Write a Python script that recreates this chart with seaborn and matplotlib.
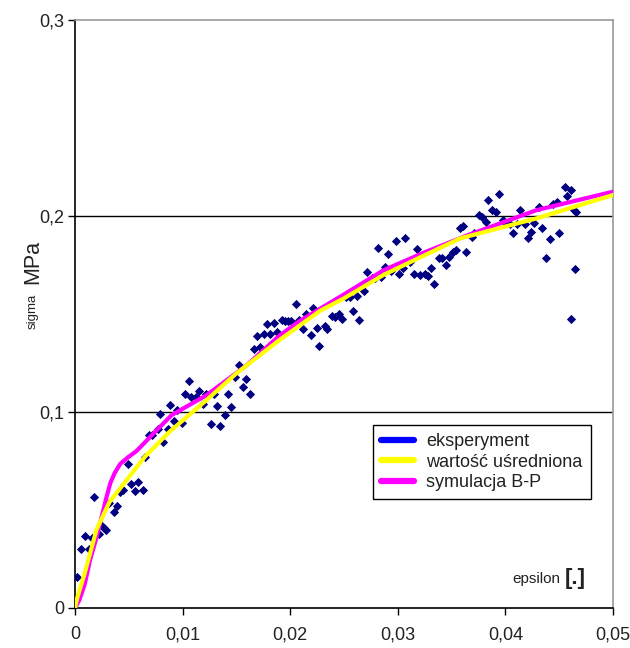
import matplotlib
matplotlib.use("Agg")
import matplotlib.pyplot as plt
import seaborn as sns
import pandas as pd
from matplotlib.lines import Line2D

# eksperyment (punkty pomiarowe)
eps_exp = [0.0002, 0.0006, 0.0009, 0.0013, 0.0016, 0.0018, 0.0022, 0.0025, 0.0027, 0.0029,
           0.0032, 0.0036, 0.0039, 0.0042, 0.0045, 0.0049, 0.0052, 0.0056, 0.0059, 0.0063,
           0.0065, 0.0069, 0.0072, 0.0077, 0.0079, 0.0082, 0.0086, 0.0088, 0.0092, 0.0095,
           0.0099, 0.0102, 0.0106, 0.0108, 0.0112, 0.0115, 0.0119, 0.0122, 0.0126, 0.0129,
           0.0132, 0.0135, 0.0139, 0.0142, 0.0145, 0.0149, 0.0152, 0.0156, 0.0159, 0.0163,
           0.0166, 0.0169, 0.0172, 0.0176, 0.0178, 0.0181, 0.0185, 0.0188, 0.0192, 0.0195,
           0.0198, 0.0201, 0.0205, 0.0208, 0.0212, 0.0215, 0.0219, 0.0221, 0.0225, 0.0227,
           0.0232, 0.0234, 0.0239, 0.0242, 0.0245, 0.0248, 0.0252, 0.0256, 0.0258, 0.0262,
           0.0264, 0.0269, 0.0271, 0.0276, 0.0279, 0.0282, 0.0284, 0.0288, 0.0291, 0.0294,
           0.0298, 0.0301, 0.0305, 0.0307, 0.0311, 0.0315, 0.0318, 0.0321, 0.0325, 0.0328,
           0.0331, 0.0334, 0.0338, 0.0341, 0.0345, 0.0348, 0.0351, 0.0354, 0.0358, 0.0361,
           0.0363, 0.0369, 0.0371, 0.0375, 0.0378, 0.0382, 0.0384, 0.0388, 0.0391, 0.0394,
           0.0398, 0.0401, 0.0404, 0.0407, 0.0411, 0.0414, 0.0418, 0.0421, 0.0424, 0.0427,
           0.0431, 0.0434, 0.0438, 0.0441, 0.0444, 0.0448, 0.0450, 0.0455, 0.0457, 0.0461,
           0.0464, 0.0466, 0.0465, 0.0461]
sigma_exp = [0.016, 0.030, 0.0366, 0.030, 0.0359, 0.0565, 0.0379, 0.0418, 0.041, 0.040,
             0.0536, 0.0491, 0.052, 0.059, 0.060, 0.0736, 0.0633, 0.0595, 0.0641, 0.0602,
             0.0772, 0.0883, 0.0883, 0.0913, 0.099, 0.0847, 0.0913, 0.1034, 0.0954, 0.101,
             0.0942, 0.1093, 0.1158, 0.1075, 0.1075, 0.1107, 0.1039, 0.1093, 0.0937, 0.1093,
             0.1032, 0.0929, 0.0986, 0.1093, 0.1024, 0.118, 0.124, 0.1129, 0.117, 0.1093,
             0.132, 0.1388, 0.1333, 0.140, 0.1447, 0.140, 0.1452, 0.141, 0.147, 0.1466,
             0.1464, 0.1464, 0.155, 0.147, 0.1423, 0.150, 0.1393, 0.153, 0.143, 0.1337,
             0.1439, 0.1423, 0.149, 0.1483, 0.150, 0.1476, 0.1585, 0.1585, 0.1515, 0.1594,
             0.147, 0.1619, 0.1714, 0.1682, 0.1682, 0.1838, 0.1687, 0.1741, 0.1805, 0.172,
             0.1874, 0.1704, 0.1733, 0.189, 0.1767, 0.1704, 0.183, 0.1699, 0.1704, 0.1695,
             0.1733, 0.1653, 0.1787, 0.1787, 0.175, 0.1793, 0.1815, 0.1827, 0.194, 0.195,
             0.1815, 0.1894, 0.1912, 0.2003, 0.1997, 0.197, 0.208, 0.203, 0.202, 0.2112,
             0.1978, 0.1966, 0.1959, 0.1912, 0.1959, 0.203, 0.1959, 0.189, 0.192, 0.1966,
             0.2044, 0.194, 0.1786, 0.1883, 0.206, 0.2073, 0.1912, 0.215, 0.2104, 0.2133,
             0.203, 0.202, 0.1728, 0.1476]

# wartość uśredniona
eps_avg = [0, 0.0002, 0.0009, 0.002, 0.0032, 0.0048, 0.0065, 0.0088, 0.012, 0.015,
           0.019, 0.0228, 0.025, 0.0287, 0.0325, 0.0358, 0.0429, 0.05]
sigma_avg = [0, 0.005, 0.0177, 0.040, 0.054, 0.0653, 0.0772, 0.090, 0.105, 0.1197,
             0.1367, 0.1517, 0.158, 0.170, 0.180, 0.1886, 0.1988, 0.2107]

# symulacja B-P
eps_bp = [0, 0.0004, 0.0009, 0.0014, 0.002, 0.0025, 0.0029, 0.0033, 0.0037, 0.0042,
          0.0049, 0.0057, 0.0065, 0.0073, 0.009, 0.0122, 0.016, 0.019, 0.0209, 0.025,
          0.0287, 0.0325, 0.0364, 0.0429, 0.05]
sigma_bp = [0, 0.004, 0.012, 0.0245, 0.036, 0.047, 0.056, 0.064, 0.069, 0.0735,
            0.0768, 0.080, 0.0845, 0.0891, 0.0985, 0.1085, 0.124, 0.139, 0.1465, 0.160,
            0.1724, 0.1815, 0.190, 0.203, 0.2124]

x_ticks = [0, 0.01, 0.02, 0.03, 0.04, 0.05]
x_labels = ['0', '0,01', '0,02', '0,03', '0,04', '0,05']
y_ticks = [0, 0.1, 0.2, 0.3]
y_labels = ['0', '0,1', '0,2', '0,3']

df_exp = pd.DataFrame({'epsilon': eps_exp, 'sigma': sigma_exp})
df_avg = pd.DataFrame({'epsilon': eps_avg, 'sigma': sigma_avg})
df_bp = pd.DataFrame({'epsilon': eps_bp, 'sigma': sigma_bp})

sns.set_style("white")
plt.rcParams['font.family'] = ['Liberation Sans', 'DejaVu Sans']

fig = plt.figure(figsize=(6.3, 6.48), dpi=100)
ax = fig.add_axes([75 / 630, 1 - 608 / 648, 538 / 630, 588 / 648])

sns.scatterplot(data=df_exp, x='epsilon', y='sigma', marker='D', s=22,
                color='#000080', linewidth=0, ax=ax, zorder=3)
sns.lineplot(data=df_bp, x='epsilon', y='sigma', sort=False, estimator=None,
             color='#ff00ff', linewidth=3, ax=ax, zorder=4)
sns.lineplot(data=df_avg, x='epsilon', y='sigma', sort=False, estimator=None,
             color='#ffff00', linewidth=3, ax=ax, zorder=5)

ax.set_xlim(0, 0.05)
ax.set_ylim(0, 0.3)
ax.set_xticks(x_ticks)
ax.set_xticklabels(x_labels)
ax.set_yticks(y_ticks)
ax.set_yticklabels(y_labels)
ax.tick_params(axis='both', direction='out', length=5, width=1, color='black',
               labelsize=13, labelcolor='#222222')
ax.tick_params(axis='x', bottom=True, pad=8)
ax.tick_params(axis='y', left=True, pad=3)
ax.set_xlabel('')
ax.set_ylabel('')

for yv in [0.1, 0.2]:
    ax.axhline(yv, color='black', linewidth=1, zorder=1)

ax.spines['left'].set_color('black')
ax.spines['bottom'].set_color('black')
ax.spines['top'].set_color('#999999')
ax.spines['right'].set_color('#999999')
for sp in ax.spines.values():
    sp.set_linewidth(1.2)

# opisy osi
fig.text(33 / 630, 1 - 262 / 648, 'MPa', rotation=90, fontsize=15.5,
         ha='center', va='center', color='#222222')
fig.text(33 / 630, 1 - 311 / 648, 'sigma', rotation=90, fontsize=9.5,
         ha='center', va='center', color='#222222')
ax.text(0.902, 0.05, 'epsilon', transform=ax.transAxes, fontsize=11,
        ha='right', va='center', color='#222222')
ax.text(0.91, 0.05, '[.]', transform=ax.transAxes, fontsize=16,
        fontweight='bold', ha='left', va='center', color='#222222')

handles = [Line2D([], [], color='#0000ff', linewidth=4.5),
           Line2D([], [], color='#ffff00', linewidth=4.5),
           Line2D([], [], color='#ff00ff', linewidth=4.5)]
leg = ax.legend(handles, ['eksperyment', 'wartość uśredniona', 'symulacja B-P'],
                loc='upper left', bbox_to_anchor=((373 - 75) / 538, (608 - 425) / 588),
                fontsize=13, frameon=True, fancybox=False, framealpha=1,
                edgecolor='black', handlelength=1.8, handletextpad=0.7,
                labelspacing=0.2, borderpad=0.45, borderaxespad=0)
leg.get_frame().set_linewidth(1)
for t in leg.get_texts():
    t.set_color('#222222')

fig.savefig('out.png', dpi=100)
